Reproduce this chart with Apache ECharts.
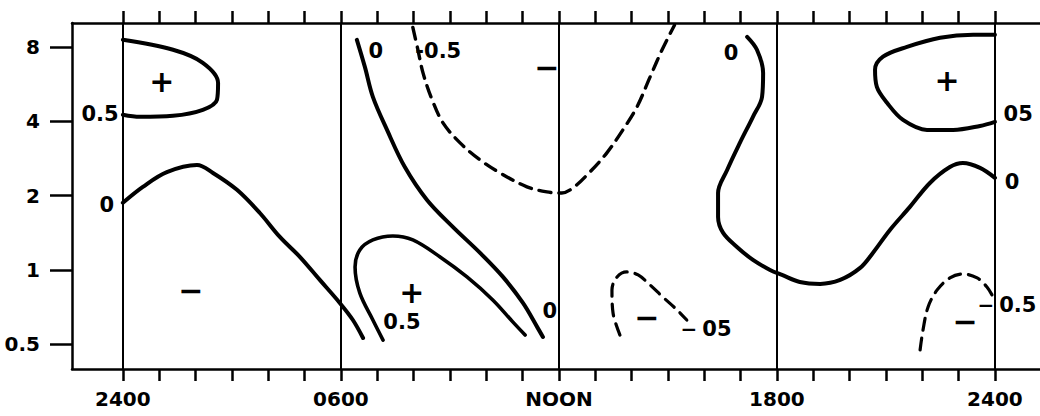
<!DOCTYPE html>
<html>
<head>
<meta charset="utf-8">
<script src="https://cdn.jsdelivr.net/npm/echarts@6/dist/echarts.min.js"></script>
<style>
  html, body { margin: 0; padding: 0; background: #ffffff; }
  #chart { width: 1040px; height: 416px; }
</style>
</head>
<body>
<div id="chart"></div>
<script>
// Local time axis (hours after midnight) and period axis (log, base 2)
const hourTicks = [0, 1, 2, 3, 4, 5, 6, 7, 8, 9, 10, 11, 12, 13, 14, 15, 16, 17, 18, 19, 20, 21, 22, 23, 24];
const hourLabelValues = [0, 6, 12, 18, 24];
const hourLabels = ['2400', '0600', 'NOON', '1800', '2400'];
const sectorHours = [0, 6, 12, 18, 24];
const periodTicks = [0.5, 1, 2, 4, 8];
const periodLabels = ['0.5', '1', '2', '4', '8'];
const periodMin = 0.397;
const periodMax = 10.0;
const hourMin = -1.4;
const hourMax = 25.24;

// +0.5 contour around midnight, after-midnight part
const lobeEarlyHours = [0, 1.38, 2.20, 2.62, 2.59, 2.20, 1.38, 0.47, 0];
const lobeEarlyPeriods = [8.55, 7.79, 6.90, 5.72, 4.89, 4.45, 4.21, 4.17, 4.25];

// +0.5 contour around midnight, before-midnight part
const lobeLateHours = [24, 23.40, 22.49, 21.58, 20.92, 20.70, 20.75, 21.03, 21.47, 22.13, 22.85, 23.59, 24];
const lobeLatePeriods = [8.96, 8.96, 8.71, 8.00, 7.30, 6.46, 5.51, 4.75, 4.05, 3.69, 3.69, 3.83, 3.98];

// zero contour, small hours
const zeroMorningHours = [0, 0.55, 1.21, 2.04, 2.48, 3.14, 3.77, 4.32, 4.87, 5.42, 5.97, 6.33, 6.61];
const zeroMorningPeriods = [1.87, 2.17, 2.49, 2.66, 2.47, 2.11, 1.70, 1.36, 1.13, 0.911, 0.735, 0.627, 0.530];

// zero contour, forenoon
const zeroForenoonHours = [6.44, 6.66, 6.88, 7.27, 7.76, 8.37, 9.08, 9.83, 10.46, 11.01, 11.40, 11.56];
const zeroForenoonPeriods = [8.55, 6.64, 5.02, 3.69, 2.61, 1.92, 1.494, 1.172, 0.937, 0.735, 0.588, 0.535];

// +0.5 contour, forenoon short periods
const lobeForenoonHours = [7.16, 6.88, 6.52, 6.39, 6.52, 6.88, 7.43, 7.98, 8.73, 9.47, 10.18, 10.73, 11.07];
const lobeForenoonPeriods = [0.520, 0.627, 0.807, 1.028, 1.205, 1.323, 1.373, 1.323, 1.129, 0.937, 0.756, 0.616, 0.545];

// -0.5 contour around noon
const minusNoonHours = [7.98, 8.12, 8.26, 8.51, 8.81, 9.28, 9.83, 10.38, 11.12, 11.67, 12.08, 12.39, 12.85, 13.32, 13.76, 14.15, 14.51, 14.84, 15.18];
const minusNoonPeriods = [9.6, 7.79, 6.28, 4.89, 3.94, 3.27, 2.79, 2.47, 2.17, 2.07, 2.05, 2.15, 2.49, 2.98, 3.69, 4.58, 6.05, 7.79, 9.8];

// zero contour, evening through midnight
const zeroEveningHours = [17.18, 17.45, 17.62, 17.59, 17.34, 16.98, 16.63, 16.38, 16.38, 16.52, 16.90, 17.34, 17.81, 18.14, 18.63, 19.19, 19.74, 20.29, 20.64, 21.11, 21.66, 22.21, 22.76, 23.12, 23.59, 24];
const zeroEveningPeriods = [8.79, 7.79, 6.28, 5.02, 4.17, 3.27, 2.54, 2.05, 1.640, 1.412, 1.239, 1.098, 1.0, 0.954, 0.894, 0.878, 0.911, 1.019, 1.172, 1.452, 1.800, 2.25, 2.61, 2.71, 2.59, 2.36];

// -0.5 contour, afternoon short periods
const minusAfternoonHours = [13.68, 13.49, 13.46, 13.60, 13.87, 14.18, 14.51, 14.86, 15.25, 15.52];
const minusAfternoonPeriods = [0.545, 0.669, 0.830, 0.937, 0.982, 0.954, 0.869, 0.777, 0.689, 0.627];

// -0.5 contour, late night short periods
const minusNightHours = [21.94, 22.02, 22.16, 22.41, 22.76, 23.12, 23.51, 23.78, 23.95];
const minusNightPeriods = [0.474, 0.571, 0.708, 0.830, 0.928, 0.963, 0.928, 0.853, 0.777];

// contour value labels
const contourLabelTexts = ['0.5', '0', '0', '-0.5', '0', '0.5', '0', '\u221205', '05', '0', '\u22120.5'];
const contourLabelHours = [-0.63, -0.44, 6.96, 8.68, 11.75, 7.68, 16.74, 16.05, 24.64, 24.47, 24.33];
const contourLabelPeriods = [4.29, 1.834, 7.72, 7.72, 0.682, 0.616, 7.54, 0.577, 4.29, 2.28, 0.721];

// sign of the departure in each region
const signTexts = ['+', '\u2212', '\u2212', '+', '\u2212', '+', '\u2212'];
const signHours = [1.07, 1.87, 11.67, 7.95, 14.42, 22.68, 23.18];
const signPeriods = [5.78, 0.822, 6.58, 0.807, 0.639, 5.83, 0.616];

const INK = '#000000';
const FONT = 'DejaVu Sans';

function toPairs(hours, periods) {
  return hours.map((h, i) => [h, Math.log2(periods[i])]);
}

const contours = [
  { hours: lobeEarlyHours, periods: lobeEarlyPeriods, dashed: false, width: 4 },
  { hours: lobeLateHours, periods: lobeLatePeriods, dashed: false, width: 4 },
  { hours: zeroMorningHours, periods: zeroMorningPeriods, dashed: false, width: 4 },
  { hours: zeroForenoonHours, periods: zeroForenoonPeriods, dashed: false, width: 4 },
  { hours: lobeForenoonHours, periods: lobeForenoonPeriods, dashed: false, width: 3.6 },
  { hours: minusNoonHours, periods: minusNoonPeriods, dashed: true, width: 3.4 },
  { hours: zeroEveningHours, periods: zeroEveningPeriods, dashed: false, width: 4 },
  { hours: minusAfternoonHours, periods: minusAfternoonPeriods, dashed: true, width: 3.2 },
  { hours: minusNightHours, periods: minusNightPeriods, dashed: true, width: 3.2 }
];

const contourSeries = contours.map((c, i) => {
  const s = {
    type: 'line',
    data: toPairs(c.hours, c.periods),
    smooth: 0.35,
    symbol: 'none',
    showSymbol: false,
    silent: true,
    z: 3,
    lineStyle: {
      color: INK,
      width: c.width,
      type: c.dashed ? [12, 8] : 'solid',
      cap: 'round',
      join: 'round'
    }
  };
  if (i === 0) {
    s.markLine = {
      silent: true,
      symbol: ['none', 'none'],
      label: { show: false },
      lineStyle: { color: INK, width: 2, type: 'solid' },
      data: sectorHours.map(h => ({ xAxis: h }))
    };
  }
  return s;
});

function labelPoints(texts, hours, periods) {
  return texts.map((t, i) => ({ name: t, value: [hours[i], Math.log2(periods[i])] }));
}

const textMarkStyle = { color: '#ffffff', opacity: 1, borderWidth: 0 };

const labelSeries = {
  type: 'scatter',
  symbol: 'rect',
  symbolSize: 1,
  itemStyle: textMarkStyle,
  silent: true,
  z: 4,
  data: labelPoints(contourLabelTexts, contourLabelHours, contourLabelPeriods),
  label: {
    show: true,
    position: 'inside',
    align: 'center',
    verticalAlign: 'middle',
    color: INK,
    opacity: 1,
    textBorderWidth: 0,
    fontFamily: FONT,
    fontWeight: 'bold',
    fontSize: 21,
    formatter: p => {
      const t = p.name;
      if (t.charAt(0) === '\u2212') {
        return '{m|\u2212}{t|' + t.slice(1) + '}';
      }
      return '{t|' + t + '}';
    },
    rich: {
      m: { fontFamily: FONT, fontWeight: 'bold', fontSize: 20, color: INK, textBorderWidth: 0, padding: [0, 5, 0, 0] },
      t: { fontFamily: FONT, fontWeight: 'bold', fontSize: 21, color: INK, textBorderWidth: 0 }
    }
  }
};

const signSeries = {
  type: 'scatter',
  symbol: 'rect',
  symbolSize: 1,
  itemStyle: textMarkStyle,
  silent: true,
  z: 4,
  data: labelPoints(signTexts, signHours, signPeriods),
  label: {
    show: true,
    position: 'inside',
    align: 'center',
    verticalAlign: 'middle',
    color: INK,
    opacity: 1,
    textBorderWidth: 0,
    fontFamily: FONT,
    fontWeight: 'bold',
    fontSize: 30,
    formatter: p => p.name
  }
};

const periodTickLogs = periodTicks.map(p => Math.log2(p));

function hourAxis(position, withLabels) {
  return {
    type: 'value',
    position: position,
    min: hourMin,
    max: hourMax,
    axisLine: { show: true, onZero: false, lineStyle: { color: INK, width: 2.5 } },
    axisTick: {
      show: true,
      inside: false,
      customValues: hourTicks,
      length: 12,
      lineStyle: { color: INK, width: 2.5 }
    },
    axisLabel: withLabels ? {
      show: true,
      customValues: hourLabelValues,
      formatter: v => hourLabels[hourLabelValues.indexOf(v)],
      margin: 20,
      fontFamily: FONT,
      fontWeight: 'bold',
      fontSize: 20,
      color: INK
    } : { show: false },
    splitLine: { show: false }
  };
}

const option = {
  backgroundColor: '#ffffff',
  animation: false,
  grid: { left: 72, right: 0, top: 23, bottom: 47, containLabel: false, outerBoundsMode: 'none' },
  xAxis: [hourAxis('bottom', true), hourAxis('top', false)],
  yAxis: {
    type: 'value',
    min: Math.log2(periodMin),
    max: Math.log2(periodMax),
    axisLine: { show: true, onZero: false, lineStyle: { color: INK, width: 2.5 } },
    axisTick: {
      show: true,
      inside: false,
      customValues: periodTickLogs,
      length: 22,
      lineStyle: { color: INK, width: 2.5 }
    },
    axisLabel: {
      show: true,
      customValues: periodTickLogs,
      formatter: v => {
        const i = periodTickLogs.findIndex(t => Math.abs(t - v) < 1e-6);
        return i >= 0 ? periodLabels[i] : '';
      },
      margin: 32,
      fontFamily: FONT,
      fontWeight: 'bold',
      fontSize: 20,
      color: INK
    },
    splitLine: { show: false }
  },
  series: [...contourSeries, labelSeries, signSeries]
};

const chart = echarts.init(document.getElementById('chart'), null, { renderer: 'svg' });
chart.setOption(option);
</script>
</body>
</html>
